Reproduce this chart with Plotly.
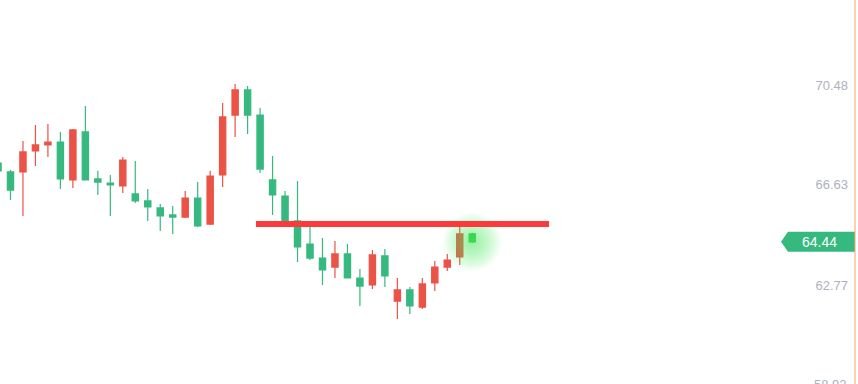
import plotly.graph_objects as go

# ---- data ----
idx = list(range(38))
opens = [67.47, 67.13, 67.13, 67.94, 68.17, 68.28, 66.82, 68.67, 66.86, 66.70,
         66.59, 66.28, 66.01, 65.74, 65.47, 65.39, 66.12, 65.12, 67.01, 69.32,
         70.29, 69.32, 66.82, 66.20, 65.24, 64.35, 63.81, 63.46, 63.97, 63.04,
         62.77, 63.89, 62.15, 62.58, 61.92, 62.85, 63.46, 63.85]
highs = [67.59, 67.20, 68.32, 68.94, 68.98, 68.67, 68.78, 69.67, 67.17, 67.01,
         67.70, 67.55, 66.47, 65.89, 65.82, 66.39, 66.74, 67.17, 69.79, 70.52,
         70.44, 69.59, 67.74, 66.39, 66.78, 65.01, 64.58, 64.47, 64.35, 63.39,
         64.12, 64.16, 63.04, 62.69, 63.04, 63.70, 63.97, 65.12]
lows = [67.05, 66.05, 65.43, 67.36, 67.70, 66.47, 66.51, 66.82, 66.24, 65.43,
        66.32, 65.93, 65.24, 64.85, 64.74, 65.35, 65.01, 65.08, 66.55, 68.48,
        68.59, 67.09, 65.47, 65.20, 63.66, 63.73, 62.77, 63.04, 63.04, 61.96,
        62.62, 62.69, 61.46, 61.65, 61.85, 62.54, 63.31, 63.54]
closes = [67.17, 66.43, 67.90, 68.17, 68.28, 66.86, 68.75, 66.82, 66.74, 66.63,
          67.59, 66.01, 65.78, 65.43, 65.39, 66.12, 65.05, 66.97, 69.25, 70.29,
          69.32, 67.24, 66.24, 65.24, 64.24, 63.81, 63.35, 63.97, 63.04, 62.73,
          63.93, 63.12, 62.58, 61.96, 62.81, 63.46, 63.73, 64.74]

last_idx = [38]
last_open = [64.74]
last_high = [64.78]
last_low = [64.39]
last_close = [64.43]
last_price = 64.44

level_price = 65.12
level_start = 20.67
level_end = 44.15

tick_vals = [62.77, 66.63, 70.48]
tick_text = ["62.77", "66.63", "70.48"]
bottom_tick_val = 58.92
bottom_tick_text = "58.92"

Y_MIN, Y_MAX = 58.954, 73.757

RED = "#eb5347"
GREEN = "#36b97f"
LIVE = "#2ecc47"
TICK_GREY = "#aeb1bd"
FONT = "Liberation Sans, Arial"

fig = go.Figure()

# glow around the live candle (drawn first, under everything)
glow_sizes = list(range(58, 4, -4))
for s in glow_sizes:
    fig.add_trace(go.Scatter(x=last_idx, y=[last_close[0]], mode="markers",
                             marker=dict(size=s, color="#47e35f", opacity=0.05, line=dict(width=0)),
                             showlegend=False, hoverinfo="skip"))

fig.add_trace(go.Candlestick(
    x=idx, open=opens, high=highs, low=lows, close=closes,
    increasing=dict(line=dict(color=RED, width=1.2), fillcolor=RED),
    decreasing=dict(line=dict(color=GREEN, width=1.2), fillcolor=GREEN),
    showlegend=False, hoverinfo="skip"))
fig.add_trace(go.Candlestick(
    x=last_idx, open=last_open, high=last_high, low=last_low, close=last_close,
    increasing=dict(line=dict(color=LIVE, width=1.2), fillcolor=LIVE),
    decreasing=dict(line=dict(color=LIVE, width=1.2), fillcolor=LIVE),
    showlegend=False, hoverinfo="skip"))

# horizontal level line
fig.add_shape(type="line", xref="x", yref="y", x0=level_start, x1=level_end,
              y0=level_price, y1=level_price, line=dict(color="#fc3a3a", width=6))

# last-price tag
fig.add_shape(type="path", xref="paper", yref="y", xsizemode="pixel", ysizemode="pixel",
              xanchor=1, yanchor=last_price,
              path="M -67,10 L 0,10 L 0,-10 L -67,-10 L -74,0 Z",
              fillcolor=GREEN, line=dict(width=0))
fig.add_annotation(xref="paper", yref="y", x=1, y=last_price, xshift=-36,
                   xanchor="center", yanchor="middle",
                   text=f"{last_price:.2f}", showarrow=False,
                   font=dict(color="white", size=14, family=FONT))

# bottom tick label (partly below the visible area)
bottom_frac = (bottom_tick_val - Y_MIN) / (Y_MAX - Y_MIN)
fig.add_annotation(xref="paper", yref="paper", x=1, y=bottom_frac, xshift=-6,
                   xanchor="right", yanchor="middle",
                   text=bottom_tick_text, showarrow=False,
                   font=dict(color=TICK_GREY, size=13, family=FONT))

# right axis line
fig.add_shape(type="line", xref="paper", yref="paper", x0=1, x1=1, y0=0, y1=1,
              line=dict(color="#f4a66c", width=1))

fig.update_layout(
    width=858, height=384,
    margin=dict(l=0, r=3, t=0, b=0),
    paper_bgcolor="white", plot_bgcolor="white",
    boxgap=0.28,
    xaxis=dict(range=[0.16, 68.67], visible=False, rangeslider=dict(visible=False), fixedrange=True),
    yaxis=dict(range=[Y_MIN, Y_MAX], side="right", showgrid=False, zeroline=False,
               tickvals=tick_vals, ticktext=tick_text, ticklabelposition="inside",
               ticks="", ticklabelstandoff=4, showline=False,
               tickfont=dict(color=TICK_GREY, size=13, family=FONT)),
    font=dict(family=FONT),
)

fig.write_html("out.html")
